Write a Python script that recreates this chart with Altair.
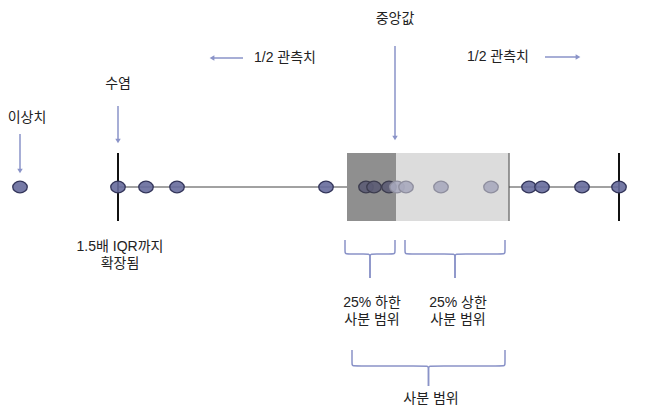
import altair as alt
import pandas as pd

# ---- data (diagram units = position along the number line / vertical slot) ----
values = [20, 118, 146, 177, 326, 366, 374, 389, 397, 406, 441, 491, 529, 542, 582, 619]
q1, median, q3 = 347, 396, 509
whisker_lo, whisker_hi = 118, 619
row_y = 187
box_top, box_bottom = 153, 221

label_texts = ["중앙값", "1/2 관측치", "1/2 관측치", "수염", "이상치",
               "1.5배 IQR까지\n확장됨", "25% 하한\n사분 범위",
               "25% 상한\n사분 범위", "사분 범위"]
label_x = [395, 285, 498, 118, 27, 120, 372, 458, 431]
label_y = [19, 58, 57, 84, 118, 247, 303, 303, 399]

arrow_x1 = [20, 118, 395, 243, 545]
arrow_y1 = [134, 106, 46, 58, 57]
arrow_x2 = [20, 118, 395, 212, 578]
arrow_y2 = [171, 141, 138, 58, 57]
arrow_dir = ["triangle-down", "triangle-down", "triangle-down", "triangle-left", "triangle-right"]

brace_x0 = [345, 405, 352]
brace_x1 = [395, 505, 505]
brace_top = [240, 240, 350]
brace_mid = [254, 254, 366]
brace_bot = [278, 278, 386]

# ---- scales ----
W, H = 629, 400
xs = alt.Scale(domain=[8, 8 + W], nice=False, zero=False)
ys = alt.Scale(domain=[8, 8 + H], nice=False, zero=False, reverse=True)

def X(f="x"):
    return alt.X(f, type="quantitative", scale=xs, axis=None)

def Y(f="y"):
    return alt.Y(f, type="quantitative", scale=ys, axis=None)

ARROW = "#8a93c8"

# box
box_df = pd.DataFrame({
    "x": [q1, median], "x2": [median, q3],
    "y": [box_top, box_top], "y2": [box_bottom, box_bottom],
    "part": ["low", "high"],
})
box = alt.Chart(box_df).mark_rect().encode(
    x=X(), x2="x2", y=Y(), y2="y2",
    color=alt.Color("part:N", scale=alt.Scale(domain=["low", "high"], range=["#8f8f8f", "#dcdcdc"]), legend=None),
)
box_edge = alt.Chart(pd.DataFrame({"x": [q3], "y": [box_top], "y2": [box_bottom]})).mark_rule(
    color="#7a7a7a", strokeWidth=1.5).encode(x=X(), y=Y(), y2="y2")

# whisker lines
wl_df = pd.DataFrame({"x": [whisker_lo, q3], "x2": [q1, whisker_hi], "y": [row_y, row_y]})
whisk = alt.Chart(wl_df).mark_rule(color="#444444", strokeWidth=1).encode(x=X(), x2="x2", y=Y())
cap_df = pd.DataFrame({"x": [whisker_lo, whisker_hi], "y": [box_top] * 2, "y2": [box_bottom] * 2})
caps = alt.Chart(cap_df).mark_rule(color="#111111", strokeWidth=2).encode(x=X(), y=Y(), y2="y2")

# points
def zone(v):
    if v < q1 or v > q3:
        return "out"
    return "low" if v < median else "high"

pts_df = pd.DataFrame({"x": values, "y": [row_y] * len(values), "zone": [zone(v) for v in values]})
ellipse = "M-1,0A1,0.8,0,1,1,1,0A1,0.8,0,1,1,-1,0Z"
pts = alt.Chart(pts_df).mark_point(shape=ellipse, size=210, filled=False, strokeWidth=1.3,
                                   fillOpacity=0.9).encode(
    x=X(), y=Y(),
    fill=alt.Fill("zone:N", scale=alt.Scale(domain=["out", "low", "high"],
                                            range=["#676b9c", "#5c5c74", "#a9aabe"]), legend=None),
    stroke=alt.Stroke("zone:N", scale=alt.Scale(domain=["out", "low", "high"],
                                                range=["#33355a", "#3c3c4e", "#8e8e9e"]), legend=None),
)

# arrows
arr_df = pd.DataFrame({"x": arrow_x1, "y": arrow_y1, "x2": arrow_x2, "y2": arrow_y2, "dir": arrow_dir})
arr_lines = alt.Chart(arr_df).mark_rule(color=ARROW, strokeWidth=1.5).encode(x=X(), y=Y(), x2="x2", y2="y2")
arr_heads = alt.Chart(arr_df).mark_point(filled=True, color=ARROW, size=30, opacity=1).encode(
    x=X("x2"), y=Y("y2"),
    shape=alt.Shape("dir:N", scale=alt.Scale(domain=arrow_dir[2:], range=arrow_dir[2:]), legend=None),
)

# braces
rows = []
for i, (a, b, t, m, bt) in enumerate(zip(brace_x0, brace_x1, brace_top, brace_mid, brace_bot)):
    c = (a + b) / 2
    for side, e in (("l", a), ("r", b)):
        s = 1 if e < c else -1
        path = [(e, t), (e, m - 5), (e, m - 1), (e + s * 1, m), (e + s * 5, m),
                (c - s * 5, m), (c - s * 1, m), (c, m + 1), (c, m + 5), (c, bt)]
        for k, (px, py) in enumerate(path):
            rows.append({"id": f"{i}{side}", "k": k, "x": px, "y": py})
brace_df = pd.DataFrame(rows)
braces = alt.Chart(brace_df).mark_line(color=ARROW, strokeWidth=1.5, interpolate="basis").encode(
    x=X(), y=Y(), detail="id:N", order="k:Q")

# labels
lab_df = pd.DataFrame({"x": label_x, "y": label_y, "t": label_texts})
labels = alt.Chart(lab_df).mark_text(font="Liberation Sans, Noto Sans CJK KR", fontSize=14, color="#222222",
                                     align="center", baseline="middle", lineBreak="\n",
                                     lineHeight=17).encode(x=X(), y=Y(), text="t:N")

chart = alt.layer(box, box_edge, whisk, caps, pts, arr_lines, arr_heads, braces, labels).properties(
    width=W, height=H, padding=0, autosize=alt.AutoSizeParams(type="none"),
).configure_view(stroke=None)

chart.save("out.html", embed_options={"renderer": "svg", "actions": False})
